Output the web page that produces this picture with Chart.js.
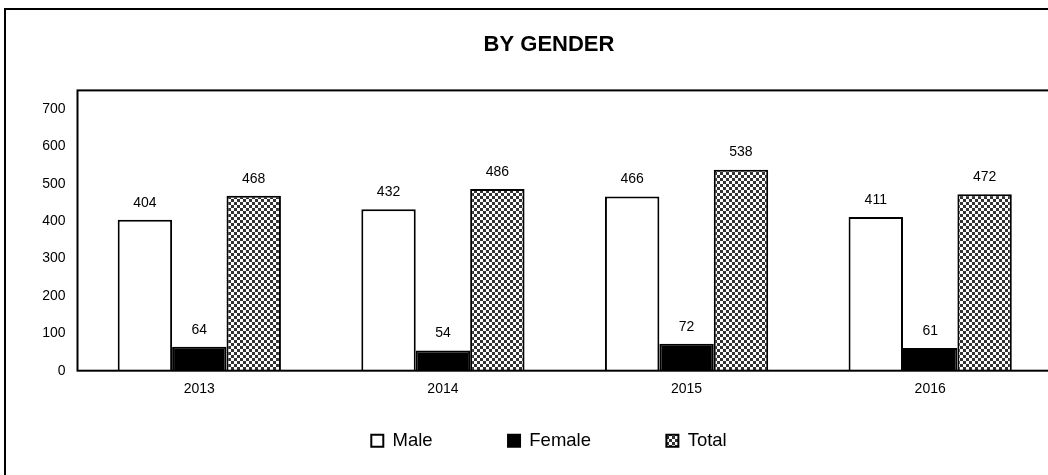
<!DOCTYPE html>
<html lang="en">
  <head>
    <meta charset="UTF-8" />
    <title>By Gender</title>
    <script src="https://cdn.jsdelivr.net/npm/chart.js@4"></script>
    <style>
      html, body { margin: 0; padding: 0; background: #fff; overflow: hidden; }
      #frame {
        position: absolute; left: 4px; top: 8px;
        width: 1110px; height: 520px;
        border: 2px solid #000; box-sizing: border-box;
      }
    </style>
  </head>
  <body>
    <div id="frame">
      <canvas id="myChart" width="1098" height="465"></canvas>
    </div>
    <script>
      const years = ["2013", "2014", "2015", "2016"];
      const male = [404, 432, 466, 411];
      const female = [64, 54, 72, 61];
      const total = [468, 486, 538, 472];
      const yTicks = [0, 100, 200, 300, 400, 500, 600, 700];

      // checkered fill for the Total bars
      function checker() {
        const c = document.createElement("canvas");
        c.width = 6;
        c.height = 6;
        const g = c.getContext("2d");
        g.fillStyle = "#fff";
        g.fillRect(0, 0, 6, 6);
        g.fillStyle = "#333";
        g.fillRect(0, 0, 3, 3);
        g.fillRect(3, 3, 3, 3);
        return g.createPattern(c, "repeat");
      }

      // box round the plot area
      const plotBox = {
        id: "plotBox",
        afterDraw(chart) {
          const { ctx, chartArea: a } = chart;
          ctx.save();
          ctx.strokeStyle = "#000";
          ctx.lineWidth = 2;
          ctx.strokeRect(a.left, a.top, a.right - a.left, a.bottom - a.top);
          ctx.restore();
        },
      };

      // value labels over each bar
      const barLabels = {
        id: "barLabels",
        afterDatasetsDraw(chart) {
          const ctx = chart.ctx;
          ctx.save();
          ctx.font = "14px 'Liberation Sans', Arial, sans-serif";
          ctx.fillStyle = "#000";
          ctx.textAlign = "center";
          ctx.textBaseline = "middle";
          chart.data.datasets.forEach((ds, i) => {
            chart.getDatasetMeta(i).data.forEach((bar, j) => {
              ctx.fillText(ds.data[j], bar.x, bar.y - 17);
            });
          });
          ctx.restore();
        },
      };

      const gap = " ".repeat(10);
      const ctx = document.getElementById("myChart").getContext("2d");
      new Chart(ctx, {
        type: "bar",
        data: {
          labels: years,
          datasets: [
            {
              label: "Male",
              data: male,
              backgroundColor: "#fff",
              borderColor: "#000",
              borderWidth: 2,
            },
            {
              label: "Female",
              data: female,
              backgroundColor: "#000",
              borderColor: "#000",
              borderWidth: 2,
            },
            {
              label: "Total",
              data: total,
              backgroundColor: checker(),
              borderColor: "#000",
              borderWidth: 2,
            },
          ],
        },
        options: {
          responsive: false,
          animation: false,
          categoryPercentage: 0.67,
          barPercentage: 1.0,
          layout: { padding: { left: 28, right: 40, top: 0, bottom: 15 } },
          scales: {
            x: {
              grid: { display: false, drawTicks: false },
              border: { display: false },
              ticks: {
                color: "#000",
                padding: 10,
                font: { family: "'Liberation Sans', Arial, sans-serif", size: 14 },
              },
            },
            y: {
              min: 0,
              max: 750,
              grid: { display: false, drawTicks: false },
              border: { display: false },
              afterBuildTicks: (axis) => {
                axis.ticks = yTicks.map((v) => ({ value: v }));
              },
              afterFit: (axis) => {
                axis.width = 43.5;
              },
              ticks: {
                color: "#000",
                padding: 12,
                font: { family: "'Liberation Sans', Arial, sans-serif", size: 14 },
              },
            },
            // empty strip on the right so the title sits where the original has it
            yRight: {
              position: "right",
              min: 0,
              max: 750,
              grid: { display: false, drawTicks: false },
              border: { display: false },
              ticks: { display: false },
              afterFit: (axis) => {
                axis.width = 12;
              },
            },
          },
          plugins: {
            tooltip: { enabled: false },
            title: {
              display: true,
              text: "BY GENDER",
              color: "#000",
              font: { family: "'Liberation Sans', Arial, sans-serif", size: 22, weight: "bold" },
              padding: { top: 22, bottom: 32 },
            },
            legend: {
              position: "bottom",
              labels: {
                color: "#000",
                boxWidth: 12,
                boxHeight: 12,
                padding: 24,
                font: { family: "'Liberation Sans', Arial, sans-serif", size: 18.5 },
                generateLabels: (chart) =>
                  Chart.defaults.plugins.legend.labels
                    .generateLabels(chart)
                    .map((item, i, all) => {
                      if (i < all.length - 1) item.text = item.text + gap;
                      return item;
                    }),
              },
            },
          },
        },
        plugins: [plotBox, barLabels],
      });
    </script>
  </body>
</html>
